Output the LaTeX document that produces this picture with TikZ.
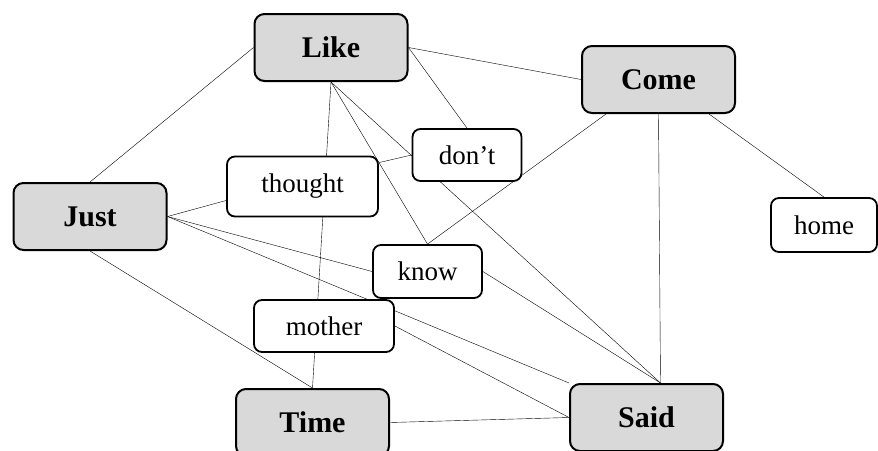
\documentclass[tikz,border=0pt]{standalone}
\usepackage{fontspec}
\setmainfont{Liberation Serif}
\usetikzlibrary{backgrounds}

\begin{document}
\begin{tikzpicture}[x=1pt, y=-1pt,
    keyword/.style={rectangle, draw, rounded corners=10pt, line width=2pt, fill=gray!30,
      minimum width=153pt, minimum height=67pt, inner sep=0pt,
      font=\fontsize{30}{32}\selectfont\bfseries},
    word/.style={rectangle, draw, rounded corners=8pt, line width=1.8pt, fill=white,
      inner sep=0pt, font=\fontsize{27}{29}\selectfont},
    link/.style={line width=1.8pt}]
  \useasboundingbox (0, 0) rectangle (878, 450);

  \node (Like) [keyword] at (331, 47.5) {Like};
  \node (Come) [keyword] at (658.5, 79.5) {Come};
  \node (Just) [keyword] at (90, 216.5) {Just};
  \node (Time) [keyword] at (312.5, 422.5) {Time};
  \node (Said) [keyword] at (646.5, 417.5) {Said};

  \node (thought) [word, minimum width=151pt, minimum height=60pt] at (302.5, 186.5) {thought};
  \node (dont) [word, minimum width=109pt, minimum height=52pt] at (467, 155) {don't};
  \node (home) [word, minimum width=106pt, minimum height=54pt] at (824, 225) {home};
  \node (know) [word, minimum width=109pt, minimum height=53pt] at (427.5, 271.5) {know};
  \node (mother) [word, minimum width=140pt, minimum height=52pt] at (324, 326) {mother};

  \coordinate (hub) at ([xshift=14pt]Said.north);

  \begin{scope}[on background layer, link]
    % from Like
    \draw (Like.west) -- (Just.north);
    \draw (Like.east) -- (Come.west);
    \draw (Like.east) -- (dont.north);
    \draw (Like.south) -- (hub);
    \draw (Like.south) -- (Time.north);
    \draw (Like.south) -- (know.north);
    \draw ([yshift=-7pt]thought.north east) -- (dont.west);
    % from Come
    \draw ([xshift=25pt]Come.south west) -- (know.north);
    \draw (Come.south) -- (hub);
    \draw ([xshift=-27pt]Come.south east) -- (home.north);
    % from Just
    \draw (Just.east) -- ([yshift=-14pt]thought.west);
    \draw (Just.east) -- (know.west);
    \draw (Just.east) -- (Said.north west);
    \draw (Just.south) -- (Time.north);
    % into Said
    \draw (mother.east) -- (Said.west);
    \draw (Time.east) -- (Said.west);
    \draw (know.east) -- (hub);
  \end{scope}
\end{tikzpicture}
\end{document}
